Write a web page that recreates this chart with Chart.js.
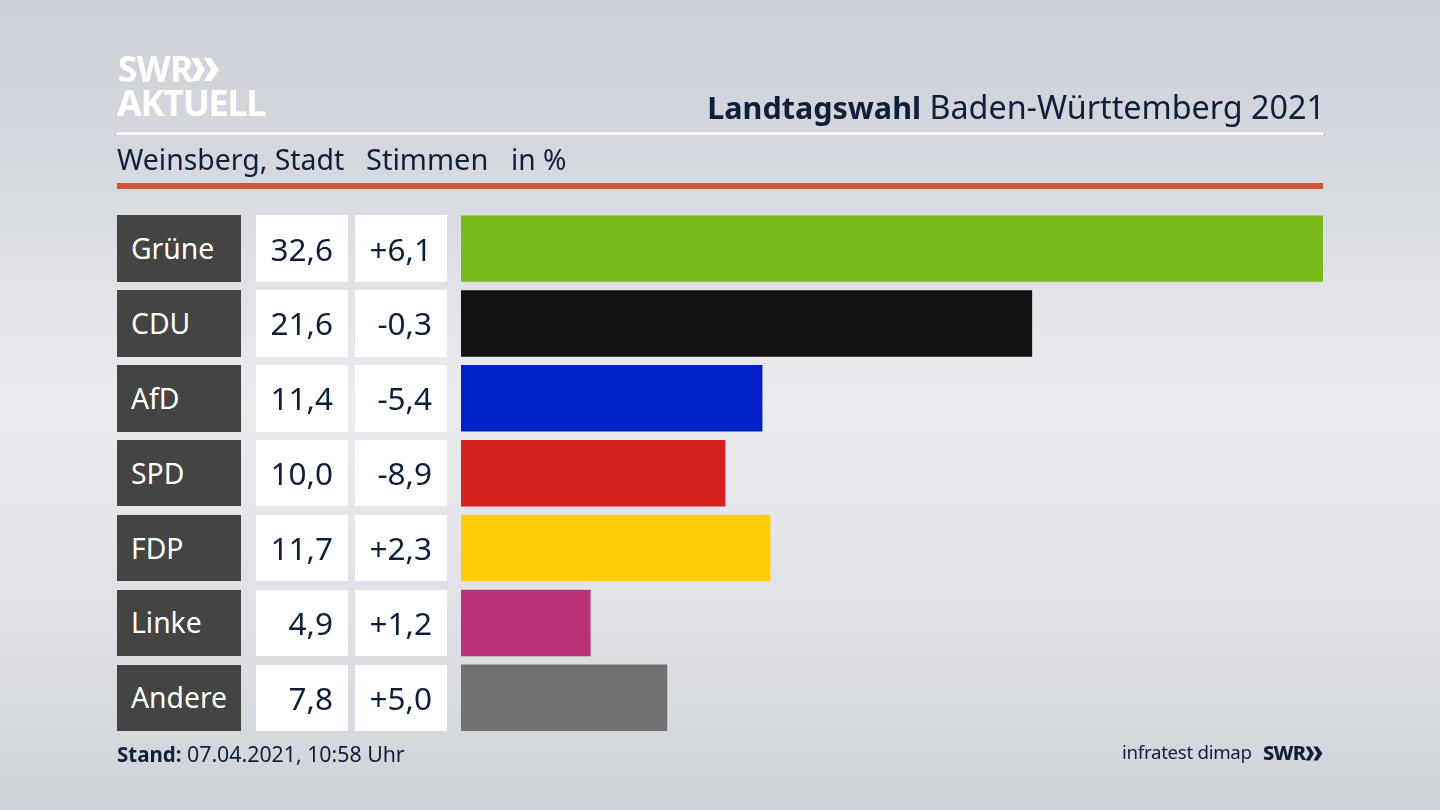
<!DOCTYPE html>
<html lang="de"><head><meta charset="utf-8">
<script src="https://cdn.jsdelivr.net/npm/chart.js@4"></script>
<style>
html,body{margin:0;padding:0;width:1440px;height:810px;overflow:hidden}
body{position:relative;background:linear-gradient(180deg,#cdd1d8 0%,#d5d8de 20%,#eaecf0 50%,#dfe1e6 75%,#cfd3d9 100%);font-family:"Noto Sans",sans-serif;color:#0f1f3a}
#wrap{position:absolute;left:0;top:0;width:1440px;height:810px}
.t{position:absolute;white-space:nowrap;line-height:1}
.r{position:absolute}
.cell{position:absolute;display:flex;align-items:center;box-sizing:border-box;font-size:31.500px;white-space:nowrap;padding-bottom:1px}
.name{background:#444442;color:#fff;left:117px;width:124px;padding-left:14px;font-size:28.300px}
.val{background:#fff;justify-content:flex-end;padding-right:15px}
</style></head><body>
<div id="wrap"><canvas id="c" width="1440" height="810"></canvas></div>
<div class="t" style="left:118px;top:51px;font-size:35px;font-weight:700;color:#fff;letter-spacing:-.5px">SWR</div>
<svg class="r" style="left:190px;top:57px" width="30" height="25" viewBox="0 0 30 25"><path d="M1 1h7l7 11.500-7 11.500h-7l7-11.500zM14 1h7l8 11.500-8 11.500h-7l7-11.500z" fill="#fff"/></svg>
<div class="t" style="left:117px;top:85px;font-size:36px;font-weight:700;color:#fff;letter-spacing:-1.300px">AKTUELL</div>
<div class="t" id="title" style="right:115px;top:90px;font-size:32.300px"><b style="font-size:30.500px">Landtagswahl</b> Baden-Württemberg 2021</div>
<div class="r" style="left:117px;top:132px;width:1206px;height:3px;background:#fff"></div>
<div class="t" style="left:117px;top:145px;font-size:28.400px">Weinsberg, Stadt</div>
<div class="t" style="left:366px;top:144px;font-size:29px">Stimmen</div>
<div class="t" style="left:511px;top:145px;font-size:28.200px">in %</div>
<div class="r" style="left:117px;top:183px;width:1206px;height:6px;background:#cc5238"></div>
<div id="rows"></div>
<div class="t" style="left:117px;top:743px;font-size:21.300px"><b style="font-size:20.500px">Stand:</b> 07.04.2021, 10:58 Uhr</div>
<div class="t" style="left:1122px;top:743px;font-size:18.700px;letter-spacing:-.3px">infratest dimap</div>
<div class="t" style="left:1263px;top:743px;font-size:20px;font-weight:800;letter-spacing:-.7px">SWR</div>
<svg class="r" style="left:1305px;top:745px" width="18" height="17" viewBox="0 0 30 25"><path d="M1 1h7l7 11.500-7 11.500h-7l7-11.500zM14 1h7l8 11.500-8 11.500h-7l7-11.500z" fill="#0f1f3a"/></svg>
<script>
const parties = ["Grüne","CDU","AfD","SPD","FDP","Linke","Andere"];
const shares = [32.6,21.6,11.4,10.0,11.7,4.9,7.8];
const shareLabels = ["32,6","21,6","11,4","10,0","11,7","4,9","7,8"];
const changeLabels = ["+6,1","-0,3","-5,4","-8,9","+2,3","+1,2","+5,0"];
const barColors = ["#78bc1b","#121212","#0020c8","#d61f1f","#ffcc07","#bc3076","#707173"];

const rowsPlugin = {
  id:"rows",
  afterRender(chart){
    const host=document.getElementById("rows");
    if(host.childElementCount) return;
    const y=chart.scales.y;
    parties.forEach((p,i)=>{
      const cy=y.getPixelForValue(i), h=66.500, top=cy-h/2;
      const add=(cls,txt,extra)=>{
        const d=document.createElement("div");
        d.className="cell "+cls; d.textContent=txt;
        d.style.top=top+"px"; d.style.height=h+"px";
        if(extra){d.style.left=extra[0]+"px";d.style.width=extra[1]+"px";}
        host.appendChild(d);
      };
      add("name",p);
      add("val",shareLabels[i],[256,92]);
      add("val",changeLabels[i],[355,92]);
    });
  }
};

new Chart(document.getElementById("c"),{
  type:"bar",
  data:{labels:parties,datasets:[{data:shares,backgroundColor:barColors,borderWidth:0,barPercentage:0.888,categoryPercentage:1}]},
  options:{
    indexAxis:"y",responsive:false,animation:false,
    layout:{padding:{left:461,right:117,top:211.200,bottom:74.800}},
    plugins:{legend:{display:false},tooltip:{enabled:false}},
    scales:{
      x:{display:false,min:0,max:32.6},
      y:{display:false}
    }
  },
  plugins:[rowsPlugin]
});
</script>
</body></html>
